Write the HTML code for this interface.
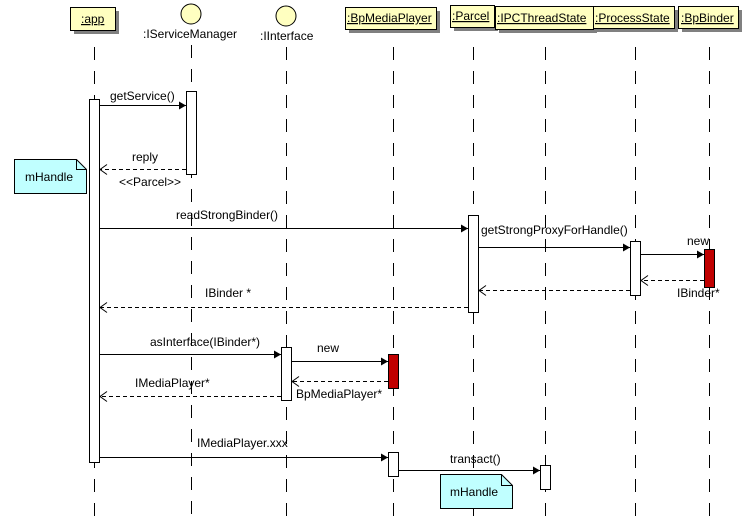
<!DOCTYPE html>
<html><head><meta charset="utf-8"><style>
html,body{margin:0;padding:0;background:#fff;}
svg text{font-family:"Liberation Sans",sans-serif;font-size:12px;fill:#000;}
</style></head><body>
<svg width="754" height="520" xmlns="http://www.w3.org/2000/svg">
<defs>
<marker id="f" markerWidth="8" markerHeight="8" refX="7" refY="4" orient="auto" markerUnits="userSpaceOnUse"><path d="M0,0 L7,4 L0,8 z" fill="#000"/></marker>
<marker id="o" markerWidth="9" markerHeight="11" refX="7.5" refY="5.5" orient="auto" markerUnits="userSpaceOnUse"><path d="M0.5,0.5 L7.5,5.5 L0.5,10.5" fill="none" stroke="#000"/></marker>
</defs>
<!-- lifelines -->
<g stroke="#000" stroke-width="1" stroke-dasharray="13,11">
<line x1="94.5" y1="47" x2="94.5" y2="520"/>
<line x1="191.5" y1="45" x2="191.5" y2="520"/>
<line x1="286.5" y1="47" x2="286.5" y2="520"/>
<line x1="393.5" y1="47" x2="393.5" y2="520"/>
<line x1="473.5" y1="47" x2="473.5" y2="520"/>
<line x1="545.5" y1="47" x2="545.5" y2="520"/>
<line x1="635.5" y1="47" x2="635.5" y2="520"/>
<line x1="709.5" y1="47" x2="709.5" y2="520"/>
</g>
<!-- headers -->
<g fill="#808080">
<rect x="74" y="11" width="45" height="23"/>
<rect x="349" y="11" width="91" height="22"/>
<rect x="454" y="9" width="44" height="22"/>
<rect x="499" y="10" width="98" height="23"/>
<rect x="597" y="10" width="81" height="22"/>
<rect x="682" y="10" width="60" height="22"/>
</g>
<g fill="#ffffc0" stroke="#000">
<rect x="70.5" y="7.5" width="45" height="23"/>
<rect x="345.5" y="7.5" width="91" height="22"/>
<rect x="450.5" y="5.5" width="44" height="22"/>
<rect x="495.5" y="6.5" width="98" height="23"/>
<rect x="593.5" y="6.5" width="81" height="22"/>
<rect x="678.5" y="6.5" width="60" height="22"/>
<circle cx="191" cy="14" r="10"/>
<circle cx="286" cy="16" r="10"/>
</g>
<g text-decoration="underline">
<text x="81" y="23">:app</text>
<text x="347" y="22">:BpMediaPlayer</text>
<text x="452" y="20">:Parcel</text>
<text x="497" y="22">:IPCThreadState</text>
<text x="595" y="22">:ProcessState</text>
<text x="681" y="22">:BpBinder</text>
</g>
<text x="143" y="38">:IServiceManager</text>
<text x="260" y="40">:IInterface</text>
<!-- activations -->
<g fill="#fff" stroke="#000">
<rect x="89.5" y="99.5" width="10" height="363"/>
<rect x="186.5" y="91.5" width="10" height="83"/>
<rect x="468.5" y="215.5" width="10" height="97"/>
<rect x="630.5" y="241.5" width="10" height="54"/>
<rect x="281.5" y="347.5" width="10" height="53"/>
<rect x="388.5" y="452.5" width="10" height="24"/>
<rect x="540.5" y="465.5" width="10" height="24"/>
</g>
<g fill="#c00000" stroke="#000">
<rect x="704.5" y="249.5" width="10" height="38"/>
<rect x="388.5" y="354.5" width="10" height="34"/>
</g>
<!-- messages -->
<g stroke="#000" fill="none">
<line x1="99" y1="105.5" x2="186" y2="105.5" marker-end="url(#f)"/>
<line x1="99" y1="228.5" x2="468" y2="228.5" marker-end="url(#f)"/>
<line x1="478" y1="247.5" x2="630" y2="247.5" marker-end="url(#f)"/>
<line x1="640" y1="254.5" x2="704" y2="254.5" marker-end="url(#f)"/>
<line x1="99" y1="354.5" x2="281" y2="354.5" marker-end="url(#f)"/>
<line x1="291" y1="361.5" x2="388" y2="361.5" marker-end="url(#f)"/>
<line x1="99" y1="457.5" x2="388" y2="457.5" marker-end="url(#f)"/>
<line x1="398" y1="470.5" x2="540" y2="470.5" marker-end="url(#f)"/>
<g stroke-dasharray="4,3">
<line x1="186" y1="169.5" x2="100" y2="169.5" marker-end="url(#o)"/>
<line x1="704" y1="280.5" x2="641" y2="280.5" marker-end="url(#o)"/>
<line x1="630" y1="290.5" x2="479" y2="290.5" marker-end="url(#o)"/>
<line x1="468" y1="307.5" x2="100" y2="307.5" marker-end="url(#o)"/>
<line x1="388" y1="381.5" x2="292" y2="381.5" marker-end="url(#o)"/>
<line x1="281" y1="396.5" x2="100" y2="396.5" marker-end="url(#o)"/>
</g>
</g>
<!-- notes -->
<g fill="#c0ffff" stroke="#000">
<path d="M14.5,159.5 H76.5 L86.5,169.5 V193.5 H14.5 Z"/>
<path d="M440.5,474.5 H501.5 L512.5,485.5 V508.5 H440.5 Z"/>
</g>
<g fill="none" stroke="#000"><path d="M76.5,159.5 V169.5 H86.5"/><path d="M501.5,474.5 V485.5 H512.5"/></g>
<text x="25" y="181">mHandle</text>
<text x="450" y="496">mHandle</text>
<!-- labels -->
<text x="110" y="100">getService()</text>
<text x="132" y="161">reply</text>
<text x="119" y="186">&lt;&lt;Parcel&gt;&gt;</text>
<text x="176" y="219">readStrongBinder()</text>
<text x="481" y="234">getStrongProxyForHandle()</text>
<text x="687" y="245">new</text>
<text x="677" y="297">IBinder*</text>
<text x="205" y="297">IBinder *</text>
<text x="150" y="346">asInterface(IBinder*)</text>
<text x="317" y="352">new</text>
<text x="296" y="398">BpMediaPlayer*</text>
<text x="135" y="387">IMediaPlayer*</text>
<text x="197" y="447">IMediaPlayer.xxx</text>
<text x="450" y="463">transact()</text>
</svg>
</body></html>
